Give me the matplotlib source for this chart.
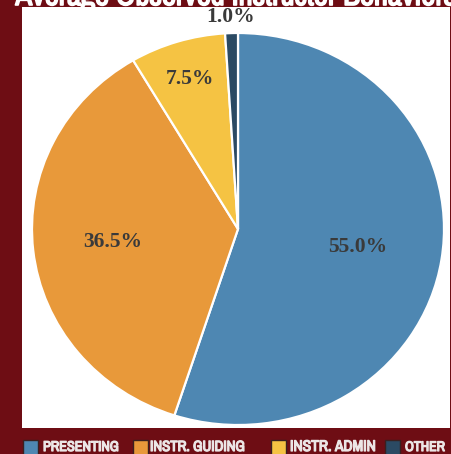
import matplotlib
matplotlib.use("Agg")
import matplotlib.pyplot as plt
from matplotlib import font_manager
from matplotlib.patches import Rectangle
import matplotlib.patheffects as pe
import numpy as np

categories = ["PRESENTING", "INSTR. GUIDING", "INSTR. ADMIN", "OTHER"]
values = [55.0, 36.5, 7.5, 1.0]
colors = ["#4e87b2", "#e8993a", "#f5c343", "#2b4a63"]
title = "Average Observed Instructor Behaviors"

names = sorted({f.name for f in font_manager.fontManager.ttflist})
narrow = "DejaVu Sans"
for n in names:
    if "Narrow" in n or "Condensed" in n:
        narrow = n
        break

W, H = 452, 454
fig = plt.figure(figsize=(W / 100, H / 100), dpi=100)
fig.patch.set_facecolor("#6e0d14")
renderer = fig.canvas.get_renderer()

def fx(px):
    return px / W

def fy(py):
    return 1 - py / H

# white panel
panel = fig.add_axes([fx(22), fy(428), fx(450) - fx(22), fy(7) - fy(428)])
panel.set_facecolor("white")
panel.set_xticks([]); panel.set_yticks([])
for s in panel.spines.values():
    s.set_visible(False)
panel.set_zorder(1)

# pie axes (bounding box of the slightly elliptical pie)
ax = fig.add_axes([fx(32), fy(425), fx(444) - fx(32), fy(33) - fy(425)])
ax.set_zorder(2)
wedges, texts, autotexts = ax.pie(
    values, colors=colors, startangle=90, counterclock=False,
    autopct=lambda p: f"{p:.1f}%", pctdistance=0.6,
    wedgeprops=dict(edgecolor="white", linewidth=1.6),
    textprops=dict(family="Liberation Serif", fontweight="bold",
                   fontsize=15.5, color="#3a3a3a"))
ax.set_aspect("auto")
ax.set_xlim(-1, 1)
ax.set_ylim(-1, 1)
ax.axis("off")

label_r = [0.59, 0.61, 0.80, 1.08]
for w, t, r in zip(wedges, autotexts, label_r):
    th = np.deg2rad((w.theta1 + w.theta2) / 2)
    t.set_position((r * np.cos(th), r * np.sin(th)))
    t.set_ha("center"); t.set_va("center")

def fit_size(txt, target_px, base=20):
    t = fig.text(0, 0, txt, fontsize=base, fontweight="bold", family=narrow)
    w = t.get_window_extent(renderer).width
    t.remove()
    return base * target_px / w

# title (cropped at top in the reference, tucked behind panel)
tsize = fit_size(title, 440)
fig.text(fx(236), fy(5), title, ha="center", va="baseline", color="white",
         fontsize=tsize, fontweight="bold", family=narrow, zorder=0,
         path_effects=[pe.withStroke(linewidth=1.2, foreground="white")])

# legend
sq_x = [23, 133, 271, 385]
tx_x = [43, 150, 290, 405]
tw = [76, 95, 86, 40]
for c, lab, sx, tx, w in zip(colors, categories, sq_x, tx_x, tw):
    fig.patches.append(Rectangle((fx(sx), fy(455)), fx(15), fy(440) - fy(455),
                                 transform=fig.transFigure, facecolor=c,
                                 edgecolor="#3a2020", linewidth=1.0, zorder=3))
    fig.text(fx(tx), fy(447), lab, ha="left", va="center", color="#ece6e6",
             fontsize=min(fit_size(lab, w), 14), fontweight="bold",
             family=narrow, zorder=3,
             path_effects=[pe.withStroke(linewidth=0.9, foreground="#ece6e6")])

fig.savefig("out.png", dpi=100, facecolor=fig.get_facecolor())
